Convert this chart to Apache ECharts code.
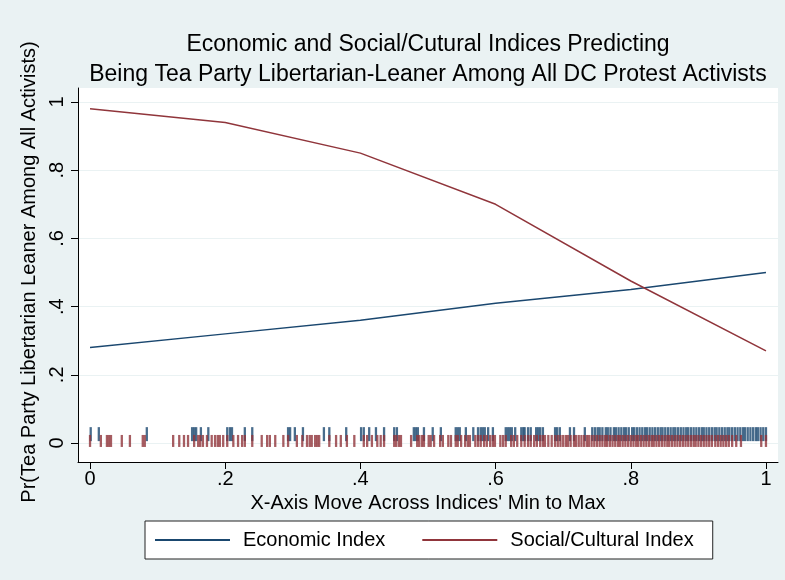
<!DOCTYPE html>
<html>
<head>
<meta charset="utf-8">
<script src="https://cdn.jsdelivr.net/npm/echarts@6/dist/echarts.min.js"></script>
<style>
  html, body { margin: 0; padding: 0; background: #eaf2f3; }
  #chart { width: 785px; height: 580px; }
</style>
</head>
<body>
<div id="chart"></div>
<script>
// Predicted probabilities along each index (min -> max)
const xSteps = [0, 0.2, 0.4, 0.6, 0.8, 1];
const economicProb = [0.28, 0.32, 0.36, 0.41, 0.45, 0.50];
const socialProb = [0.98, 0.94, 0.85, 0.70, 0.475, 0.27];

// Observed respondent positions on each index (rug marks)
const economicRug = [
  0.001, 0.013, 0.084, 0.151, 0.154, 0.157, 0.164, 0.175, 0.203, 0.207, 0.210, 0.229, 0.240,
  0.293, 0.296, 0.303, 0.315, 0.346, 0.354, 0.379, 0.401, 0.405, 0.413, 0.423, 0.435, 0.450,
  0.454, 0.479, 0.482, 0.485, 0.494, 0.507, 0.519, 0.541, 0.544, 0.547, 0.556, 0.567, 0.574,
  0.578, 0.581, 0.584, 0.589, 0.596, 0.615, 0.618, 0.621, 0.624, 0.629, 0.638, 0.641, 0.643,
  0.648, 0.652, 0.660, 0.663, 0.666, 0.670, 0.688, 0.691, 0.695, 0.710, 0.716, 0.732,
  0.743, 0.747, 0.751, 0.754, 0.758, 0.763, 0.766, 0.770, 0.775, 0.778, 0.782, 0.786, 0.790,
  0.793, 0.797, 0.802, 0.805, 0.809, 0.813, 0.817, 0.821, 0.824, 0.828, 0.832, 0.836, 0.840,
  0.844, 0.847, 0.851, 0.855, 0.859, 0.863, 0.866, 0.870, 0.874, 0.878, 0.882, 0.885, 0.889,
  0.893, 0.897, 0.901, 0.905, 0.908, 0.912, 0.916, 0.920, 0.924, 0.927, 0.931, 0.935, 0.939,
  0.943, 0.946, 0.950, 0.954, 0.958, 0.962, 0.966, 0.969, 0.973, 0.977, 0.981, 0.985, 0.988,
  0.992, 0.996, 1.000
];
const socialRug = [
  0.000, 0.016, 0.025, 0.028, 0.031, 0.047, 0.059, 0.078, 0.081, 0.123, 0.132, 0.139, 0.145,
  0.154, 0.160, 0.163, 0.167, 0.173, 0.180, 0.185, 0.189, 0.192, 0.197, 0.203, 0.212, 0.219,
  0.225, 0.229, 0.240, 0.254, 0.262, 0.266, 0.274, 0.286, 0.293, 0.306, 0.314, 0.321, 0.325,
  0.328, 0.333, 0.336, 0.339, 0.354, 0.364, 0.371, 0.380, 0.391, 0.405, 0.410, 0.417, 0.425,
  0.430, 0.435, 0.450, 0.453, 0.457, 0.460, 0.475, 0.484, 0.487, 0.491, 0.494, 0.501, 0.504,
  0.509, 0.518, 0.522, 0.530, 0.534, 0.541, 0.544, 0.549, 0.555, 0.559, 0.562, 0.570, 0.574,
  0.578, 0.583, 0.587, 0.592, 0.596, 0.599, 0.607, 0.611, 0.615, 0.623, 0.627, 0.632, 0.638,
  0.643, 0.648, 0.652, 0.657, 0.661, 0.666, 0.670, 0.673, 0.678, 0.683, 0.688, 0.692, 0.696,
  0.700, 0.704, 0.707, 0.711, 0.716, 0.719, 0.723, 0.727, 0.731, 0.735, 0.738, 0.742, 0.746,
  0.750, 0.754, 0.758, 0.762, 0.765, 0.769, 0.773, 0.777, 0.781, 0.784, 0.788, 0.792, 0.796,
  0.800, 0.804, 0.808, 0.811, 0.815, 0.819, 0.823, 0.827, 0.831, 0.834, 0.838, 0.842, 0.846,
  0.850, 0.854, 0.857, 0.861, 0.865, 0.869, 0.873, 0.877, 0.881, 0.885, 0.889, 0.893, 0.896,
  0.900, 0.904, 0.908, 0.912, 0.916, 0.920, 0.925, 0.929, 0.933, 0.937, 0.941, 0.945, 0.950,
  0.956, 0.963, 0.993, 1.000
];

// Tick labels
const xTicks = [0, 0.2, 0.4, 0.6, 0.8, 1];
const xTickLabels = ['0', '.2', '.4', '.6', '.8', '1'];
const yTicks = [0, 0.2, 0.4, 0.6, 0.8, 1];
const yTickLabels = ['0', '.2', '.4', '.6', '.8', '1'];

const NAVY = '#1a476f';
const MAROON = '#90353b';
const FONT = '"Liberation Sans", Arial, Helvetica, sans-serif';

const fmt = (list, labels) => v => {
  const i = list.findIndex(t => Math.abs(t - v) < 1e-9);
  return i >= 0 ? labels[i] : '';
};

const chart = echarts.init(document.getElementById('chart'), null, { renderer: 'canvas' });

chart.setOption({
  backgroundColor: '#eaf2f3',
  animation: false,
  textStyle: { fontFamily: FONT, color: '#000' },
  title: {
    text: 'Economic and Social/Cutural Indices Predicting\nBeing Tea Party Libertarian-Leaner Among All DC Protest Activists',
    left: 423,
    textAlign: 'center',
    top: 25,
    textStyle: { fontFamily: FONT, fontSize: 23, fontWeight: 'normal', color: '#000', lineHeight: 30 }
  },
  legend: {
    data: ['Economic Index', 'Social/Cultural Index'],
    left: 145,
    top: 521,
    orient: 'horizontal',
    icon: 'rect',
    backgroundColor: '#fff',
    borderColor: '#222',
    borderWidth: 1,
    padding: [8, 19, 8, 10],
    itemWidth: 75,
    itemHeight: 2,
    itemGap: 37,
    textStyle: { fontFamily: FONT, fontSize: 20, color: '#000', padding: [0, 0, 0, 8], lineHeight: 22 }
  },
  grid: {
    left: 78, right: 7, top: 88, bottom: 118,
    show: true, backgroundColor: '#fff', borderWidth: 0
  },
  xAxis: {
    type: 'value',
    min: -0.0178,
    max: 1.0178,
    name: "X-Axis Move Across Indices' Min to Max",
    nameLocation: 'middle',
    nameGap: 24,
    nameTextStyle: { fontFamily: FONT, fontSize: 20, color: '#000' },
    axisLine: { show: true, onZero: false, lineStyle: { color: '#000', width: 1 } },
    axisTick: { show: true, length: 7, customValues: xTicks, lineStyle: { color: '#000' } },
    axisLabel: { customValues: xTicks, formatter: fmt(xTicks, xTickLabels), fontSize: 20, color: '#000', margin: 7, fontFamily: FONT },
    splitLine: { show: false }
  },
  yAxis: {
    type: 'value',
    min: -0.0557,
    max: 1.041,
    name: 'Pr(Tea Party Libertarian Leaner Among All Activists)',
    nameLocation: 'middle',
    nameGap: 25,
    nameRotate: 90,
    nameTextStyle: { fontFamily: FONT, fontSize: 20, color: '#000', padding: [0, 0, 0, 6] },
    axisLine: { show: true, onZero: false, lineStyle: { color: '#000', width: 1 } },
    axisTick: { show: true, length: 7, customValues: yTicks, lineStyle: { color: '#000' } },
    axisLabel: { customValues: yTicks, formatter: fmt(yTicks, yTickLabels), rotate: 90, fontSize: 20, color: '#000', margin: 11, fontFamily: FONT },
    splitLine: { show: false }
  },
  series: [
    {
      name: 'gridlines',
      type: 'line',
      data: [],
      silent: true,
      z: 0,
      markLine: {
        silent: true,
        z: 0,
        symbol: 'none',
        label: { show: false },
        lineStyle: { color: '#eaf2f3', width: 1, type: 'solid' },
        data: yTicks.map(v => ({ yAxis: v }))
      }
    },
    {
      name: 'economic rug',
      type: 'scatter',
      silent: true,
      z: 3,
      symbol: 'rect',
      symbolSize: [2.3, 14],
      itemStyle: { color: NAVY },
      data: economicRug.map(v => [v, 0.026])
    },
    {
      name: 'social rug',
      type: 'scatter',
      silent: true,
      z: 4,
      symbol: 'rect',
      symbolSize: [2.3, 12],
      itemStyle: { color: MAROON },
      data: socialRug.map(v => [v, 0.006])
    },
    {
      name: 'Economic Index',
      type: 'line',
      z: 5,
      symbol: 'none',
      lineStyle: { color: NAVY, width: 1.5 },
      itemStyle: { color: NAVY },
      data: xSteps.map((x, i) => [x, economicProb[i]])
    },
    {
      name: 'Social/Cultural Index',
      type: 'line',
      z: 6,
      symbol: 'none',
      lineStyle: { color: MAROON, width: 1.5 },
      itemStyle: { color: MAROON },
      data: xSteps.map((x, i) => [x, socialProb[i]])
    }
  ]
});
</script>
</body>
</html>
